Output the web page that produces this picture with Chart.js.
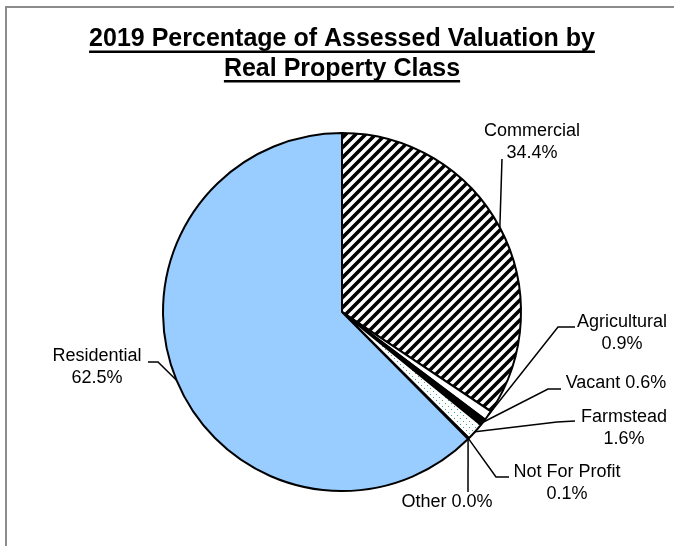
<!DOCTYPE html>
<html>
<head>
<meta charset="utf-8">
<script src="https://cdn.jsdelivr.net/npm/chart.js@4.4.1/dist/chart.umd.min.js"></script>
<style>
  html, body { margin: 0; padding: 0; background: #fff; }
  #wrap { position: relative; width: 674px; height: 546px; overflow: hidden; }
  #frame { position: absolute; left: 5px; top: 6px; width: 700px; height: 600px;
           border-left: 2px solid #8c8c8c; border-top: 2px solid #8c8c8c; }
  #myChart { position: absolute; left: 0; top: 0; }
</style>
</head>
<body>
<div id="wrap">
  <div id="frame"></div>
  <canvas id="myChart" width="674" height="546"></canvas>
</div>
<script>
// Data (clockwise from 12 o'clock)
const categories = ['Commercial', 'Agricultural', 'Vacant', 'Farmstead', 'Not For Profit', 'Other', 'Residential'];
const shares = [34.4, 0.9, 0.6, 1.6, 0.1, 0.0, 62.5];
const percentLabels = shares.map(v => v.toFixed(1) + '%');
const chartTitle = ['2019 Percentage of Assessed Valuation by', 'Real Property Class'];

// where each data label sits, relative to the pie centre, and its leader line bends
const labelSpots = [
  { twoLines: true,  dx: 190,  dy: -181, path: [[160, -153]] },
  { twoLines: true,  dx: 280,  dy: 10,   path: [[216, 15], [233, 15]] },
  { twoLines: false, dx: 274,  dy: 71,   path: [[206, 77], [219, 77]] },
  { twoLines: true,  dx: 282,  dy: 105,  path: [[215, 110], [233, 109]] },
  { twoLines: true,  dx: 225,  dy: 160,  path: [[154, 165], [167, 165]] },
  { twoLines: false, dx: 105,  dy: 190,  path: [[126, 180]] },
  { twoLines: true,  dx: -245, dy: 44,   path: [[-184, 50], [-194, 50]] }
];

const FONT = '"Liberation Sans", Arial, sans-serif';

document.addEventListener('DOMContentLoaded', function () {
  const ctx = document.getElementById('myChart').getContext('2d');

  // wide upward diagonal hatch for Commercial
  function hatchPattern() {
    const s = 10;
    const c = document.createElement('canvas');
    c.width = c.height = s;
    const g = c.getContext('2d');
    g.fillStyle = '#fff';
    g.fillRect(0, 0, s, s);
    g.strokeStyle = '#000';
    g.lineWidth = 3.6;
    g.beginPath();
    g.moveTo(0, s); g.lineTo(s, 0);
    g.moveTo(-s / 2, s / 2); g.lineTo(s / 2, -s / 2);
    g.moveTo(s / 2, s * 1.5); g.lineTo(s * 1.5, s / 2);
    g.stroke();
    return ctx.createPattern(c, 'repeat');
  }

  // sparse green dots for Farmstead
  function dotPattern() {
    const c = document.createElement('canvas');
    c.width = c.height = 6;
    const g = c.getContext('2d');
    g.fillStyle = '#fff';
    g.fillRect(0, 0, 6, 6);
    g.fillStyle = '#49a57c';
    g.fillRect(1, 1, 1, 1);
    g.fillRect(4, 4, 1, 1);
    return ctx.createPattern(c, 'repeat');
  }

  const sliceColors = [hatchPattern(), '#ffffff', '#000000', dotPattern(), '#ffffff', '#ffffff', '#99ccff'];

  const underlineTitle = {
    id: 'underlineTitle',
    afterDraw(chart) {
      const t = chart.titleBlock;
      const opts = chart.options.plugins.title;
      const size = opts.font.size;
      const lh = size * opts.font.lineHeight;
      const c = chart.ctx;
      c.save();
      c.font = 'bold ' + size + 'px ' + FONT;
      c.strokeStyle = '#000';
      c.lineWidth = 2.5;
      const cx = (t.left + t.right) / 2;
      chartTitle.forEach((line, i) => {
        const mid = t.top + opts.padding.top + lh / 2 + i * lh;
        const y = mid + size * 0.5;
        const w = c.measureText(line).width;
        c.beginPath();
        c.moveTo(cx - w / 2, y);
        c.lineTo(cx + w / 2, y);
        c.stroke();
      });
      c.restore();
    }
  };

  const leaderLabels = {
    id: 'leaderLabels',
    afterDatasetsDraw(chart) {
      const c = chart.ctx;
      const arcs = chart.getDatasetMeta(0).data;
      c.save();
      c.strokeStyle = '#000';
      c.lineWidth = 1.5;
      c.fillStyle = '#000';
      c.font = '18px ' + FONT;
      c.textAlign = 'center';
      c.textBaseline = 'middle';
      arcs.forEach((arc, i) => {
        const p = arc.getProps(['x', 'y', 'startAngle', 'endAngle', 'outerRadius'], true);
        const mid = (p.startAngle + p.endAngle) / 2;
        const spot = labelSpots[i];
        c.beginPath();
        c.moveTo(p.x + Math.cos(mid) * p.outerRadius, p.y + Math.sin(mid) * p.outerRadius);
        spot.path.forEach(pt => c.lineTo(p.x + pt[0], p.y + pt[1]));
        c.stroke();
        const tx = p.x + spot.dx, ty = p.y + spot.dy;
        if (spot.twoLines) {
          c.fillText(categories[i], tx, ty);
          c.fillText(percentLabels[i], tx, ty + 22);
        } else {
          c.fillText(categories[i] + ' ' + percentLabels[i], tx, ty);
        }
      });
      c.restore();
    }
  };

  new Chart(ctx, {
    type: 'pie',
    data: {
      labels: categories,
      datasets: [{
        data: shares,
        backgroundColor: sliceColors,
        borderColor: '#000',
        borderWidth: 2,
        hoverOffset: 0,
        offset: 0
      }]
    },
    options: {
      responsive: false,
      animation: false,
      events: [],
      layout: { padding: { left: 10, right: 0, top: 0, bottom: 54 } },
      plugins: {
        legend: { display: false },
        tooltip: { enabled: false },
        title: {
          display: true,
          text: chartTitle,
          color: '#000',
          font: { family: FONT, size: 25, weight: 'bold', lineHeight: 1.18 },
          padding: { top: 24.5, bottom: 48.5 }
        }
      }
    },
    plugins: [underlineTitle, leaderLabels]
  });
});
</script>
</body>
</html>
